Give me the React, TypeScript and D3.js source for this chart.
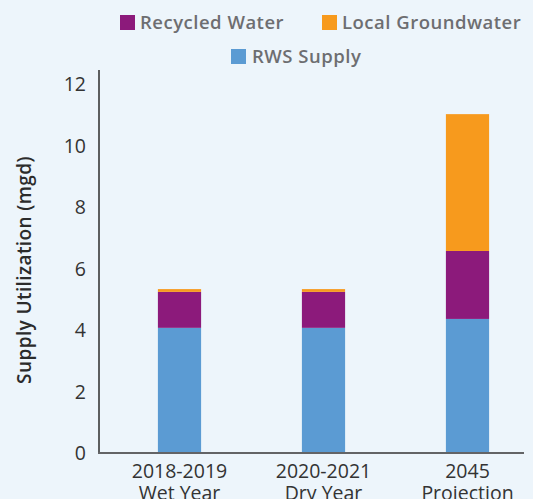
import React from "react";
import * as d3 from "d3";

const categories = [["2018-2019", "Wet Year"], ["2020-2021", "Dry Year"], ["2045", "Projection"]];
const rwsSupply = [4.07, 4.07, 4.36];
const recycledWater = [1.17, 1.17, 2.21];
const localGroundwater = [0.09, 0.09, 4.45];
const yTicks = [0, 2, 4, 6, 8, 10, 12];
const seriesKeys = ["rws", "recycled", "local"];
const seriesColors = { rws: "#5b9bd3", recycled: "#8c1a7b", local: "#f79a1d" };

const W = 533, H = 499;

export default function App() {
  const rows = categories.map((c, i) => ({
    key: c.join(" "),
    rws: rwsSupply[i],
    recycled: recycledWater[i],
    local: localGroundwater[i],
  }));
  const stack = d3.stack<any>().keys(seriesKeys)(rows);
  const x = d3.scaleBand().domain(rows.map(r => r.key)).range([107.5, 539.5]).paddingInner(0.7).paddingOuter(0.35);
  const y = d3.scaleLinear().domain([0, 12]).range([453, 84]);
  const font = "'Open Sans', Lato, sans-serif";
  return (
    <svg width={W} height={H} style={{ position: "absolute", left: 0, top: 0, background: "#edf5fb" }} fontFamily={font}>
      <rect width={W} height={H} fill="#edf5fb" />
      {stack.map(s => (
        <g key={s.key} fill={(seriesColors as any)[s.key]}>
          {s.map((d, i) => (
            <rect key={i} x={x(rows[i].key)} width={x.bandwidth()} y={y(d[1])} height={y(d[0]) - y(d[1])} />
          ))}
        </g>
      ))}
      <line x1={99} x2={99} y1={70} y2={453} stroke="#2b2b2b" strokeWidth={1.5} />
      <line x1={98} x2={524} y1={453} y2={453} stroke="#636466" strokeWidth={2} />
      {yTicks.map(t => (
        <text key={t} x={86} y={y(t)} dy="0.36em" textAnchor="end" fontSize={19.5} fill="#333" fontWeight={400}>{t}</text>
      ))}
      {rows.map((r, i) => (
        <text key={r.key} x={(x(r.key) as number) + x.bandwidth() / 2} y={478} textAnchor="middle" fontSize={19.5} fill="#333" fontWeight={400}>
          <tspan x={(x(r.key) as number) + x.bandwidth() / 2}>{categories[i][0]}</tspan>
          <tspan x={(x(r.key) as number) + x.bandwidth() / 2} dy={22}>{categories[i][1]}</tspan>
        </text>
      ))}
      <text transform="translate(31,270) rotate(-90)" textAnchor="middle" fontSize={19} fontWeight={600} fill="#2b2b2b" letterSpacing={0.4}>Supply Utilization (mgd)</text>
      <g fontSize={18.5} fontWeight={600} fill="#6d6e71" letterSpacing={0.5}>
        <rect x={120} y={15} width={15} height={15} fill={seriesColors.recycled} />
        <text x={140} y={29}>Recycled Water</text>
        <rect x={322} y={15} width={15} height={15} fill={seriesColors.local} />
        <text x={342} y={29}>Local Groundwater</text>
        <rect x={231} y={49} width={15} height={15} fill={seriesColors.rws} />
        <text x={252} y={63}>RWS Supply</text>
      </g>
    </svg>
  );
}
